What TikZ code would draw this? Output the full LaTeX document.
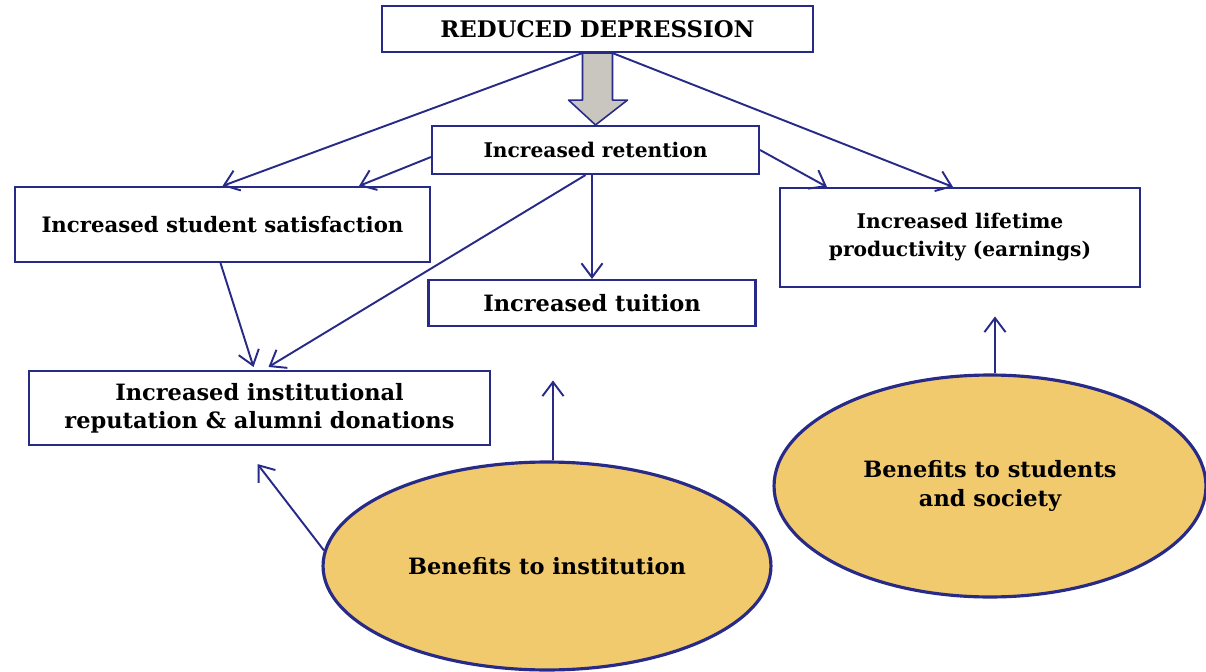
\documentclass[tikz,border=0pt]{standalone}
\usepackage{fontspec}
\setmainfont{DejaVu Serif}
\usetikzlibrary{shapes.geometric,arrows.meta,calc}
\definecolor{navy}{RGB}{40,42,135}
\definecolor{blobfill}{RGB}{242,202,110}
\definecolor{blockgray}{RGB}{200,198,190}
\newcommand{\boxfont}[1]{\bfseries\fontsize{#1}{16}\selectfont}
\tikzstyle{box} = [draw=navy,line width=1.2pt,fill=white,align=center,inner sep=0pt,font=\boxfont{11.5}]
\tikzstyle{blob} = [ellipse,draw=navy,line width=1.8pt,fill=blobfill,align=center,inner sep=0pt,font=\boxfont{12.8}]
\tikzstyle{arrow} = [navy,line width=1.1pt,-{Straight Barb[length=8pt,width=12pt]}]

\begin{document}
\begin{tikzpicture}[x=0.02cm,y=-0.02cm]
\useasboundingbox (0,0) rectangle (1206,672);
\node[box,minimum width=8.62cm,minimum height=0.92cm,font=\boxfont{13}] (dep) at (597.5,29) {REDUCED DEPRESSION};
\node[box,minimum width=6.54cm,minimum height=0.96cm] (ret) at (595.5,150) {Increased retention};
\node[box,minimum width=8.3cm,minimum height=1.5cm,font=\boxfont{12.1}] (sat) at (222.5,224.5) {Increased student satisfaction};
\node[box,minimum width=6.54cm,minimum height=0.92cm,font=\boxfont{12.8}] (tui) at (592,303) {Increased tuition};
\node[box,minimum width=7.2cm,minimum height=1.98cm] (life) at (960,237.5) {Increased lifetime\\productivity (earnings)};
\node[box,minimum width=9.22cm,minimum height=1.48cm,font=\boxfont{12.8}] (rep) at (259.5,408) {Increased institutional\\reputation \& alumni donations};
\node[blob,minimum width=8.96cm,minimum height=4.16cm] (inst) at (547,566) {Benefits to institution};
\node[blob,minimum width=8.64cm,minimum height=4.44cm] (soc) at (990,486) {Benefits to students\\and society};

% big arrow between the two top boxes
\draw[navy,line width=0.9pt,fill=blockgray,line join=round] ($(dep.south)+(-15,0)$) -- ++(0,47) -- ++(-14,0) -- (ret.north) -- ($(dep.south)+(30,47)$) -- ++(-15,0) -- ($(dep.south)+(15,0)$) -- cycle;

\draw[arrow] ($(dep.south)+(-15,0)$) -- (sat.north);
\draw[arrow] ($(dep.south)+(15,0)$) -- ($(life.north)+(-7,0)$);
\draw[arrow] ($(ret.west)+(0,7)$) -- ($(sat.north east)+(-72,0)$);
\draw[arrow] (ret.east) -- ($(life.north west)+(48,0)$);
\draw[arrow] (ret.south -| tui.north) -- (tui.north);
\draw[arrow] ($(ret.south)+(-10,0)$) -- ($(rep.north)+(9,-3)$);
\draw[arrow] ($(sat.south)+(-2,0)$) -- ($(rep.north)+(-6,-3)$);
\draw[arrow] (inst.176) -- ($(rep.south)+(-2,18)$);
\draw[arrow] ($(inst.north)+(6,0)$) -- ++(0,-80);
\draw[arrow] ($(soc.north)+(5,0)$) -- ++(0,-57);
\end{tikzpicture}
\end{document}
